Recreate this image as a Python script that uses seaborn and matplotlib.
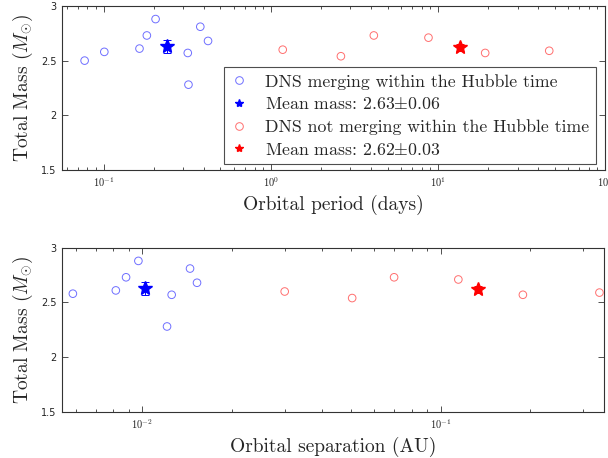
import matplotlib
matplotlib.use('Agg')
import matplotlib.pyplot as plt
import matplotlib.ticker as mticker
from matplotlib.lines import Line2D
import seaborn as sns

# top panel: orbital period (days) vs total mass
blue_period = [0.077, 0.101, 0.164, 0.1815, 0.2047, 0.319, 0.322, 0.379, 0.4217]
blue_mass_p = [2.50, 2.58, 2.61, 2.73, 2.88, 2.57, 2.28, 2.81, 2.68]
red_period = [1.18, 2.63, 4.14, 8.79, 19.2, 46.4]
red_mass_p = [2.60, 2.54, 2.73, 2.71, 2.57, 2.59]

# bottom panel: orbital separation (AU) vs total mass
blue_sep = [0.00585, 0.00815, 0.00882, 0.0097, 0.01254, 0.0121, 0.01445, 0.01525]
blue_mass_a = [2.58, 2.61, 2.73, 2.88, 2.57, 2.28, 2.81, 2.68]
red_sep = [0.0300, 0.0505, 0.0698, 0.1146, 0.1886, 0.3405]
red_mass_a = [2.60, 2.54, 2.73, 2.71, 2.57, 2.59]

# mean masses
mean_blue = 2.63
err_blue = 0.06
mean_red = 2.62
err_red = 0.03
mean_blue_period = 0.240
mean_red_period = 13.6
mean_blue_sep = 0.0102
mean_red_sep = 0.133

legend_labels = ['DNS merging within the Hubble time',
                 r'Mean mass: 2.63$\pm$0.06',
                 'DNS not merging within the Hubble time',
                 r'Mean mass: 2.62$\pm$0.03']

sns.set_style('ticks')
plt.rcParams['font.family'] = ['cmr10', 'DejaVu Serif']
plt.rcParams['mathtext.fontset'] = 'cm'
plt.rcParams['axes.formatter.use_mathtext'] = True
plt.rcParams['xtick.direction'] = 'in'
plt.rcParams['ytick.direction'] = 'in'

edge = '#333333'
light_blue = '#6f6fff'
light_red = '#ff6f6f'


def log_fmt(v, pos):
    import math
    e = int(round(math.log10(v)))
    return r'$\mathsf{10^{%d}}$' % e


def panel(ax, bx, by, rx, ry, mbx, mrx, xlim, xlabel):
    sns.scatterplot(x=bx, y=by, ax=ax, marker='o', s=30, facecolors='none',
                    edgecolor=light_blue, linewidth=0.7, zorder=3)
    sns.scatterplot(x=rx, y=ry, ax=ax, marker='o', s=30, facecolors='none',
                    edgecolor=light_red, linewidth=0.7, zorder=3)
    ax.errorbar([mbx], [mean_blue], yerr=[err_blue], fmt='*', color='blue',
                markersize=10, capsize=3, elinewidth=0.7, capthick=0.7, zorder=4)
    ax.errorbar([mrx], [mean_red], yerr=[err_red], fmt='*', color='red',
                markersize=10, capsize=3, elinewidth=0.7, capthick=0.7, zorder=4)
    ax.set_xscale('log')
    ax.set_xlim(*xlim)
    ax.set_ylim(1.5, 3)
    ax.set_yticks([1.5, 2, 2.5, 3])
    ax.set_yticklabels(['1.5', '2', '2.5', '3'], fontfamily='DejaVu Sans')
    ax.xaxis.set_major_formatter(mticker.FuncFormatter(log_fmt))
    ax.xaxis.set_minor_formatter(mticker.NullFormatter())
    ax.tick_params(which='both', top=True, right=True, labelsize=7,
                   color=edge, labelcolor='#222222', pad=4)
    ax.tick_params(axis='x', which='major', labelsize=7.5)
    ax.tick_params(which='major', length=4, width=0.6)
    ax.tick_params(which='minor', length=2.5, width=0.6)
    for s in ax.spines.values():
        s.set_visible(True)
        s.set_color(edge)
        s.set_linewidth(0.8)
    ax.set_xlabel(xlabel, fontsize=14)
    ax.set_ylabel(r'Total Mass ($M_{\odot}$)', fontsize=14)


fig = plt.figure(figsize=(6.08, 4.58), dpi=100)
ax1 = fig.add_axes([0.102, 0.629, 0.893, 0.358])
ax2 = fig.add_axes([0.102, 0.101, 0.891, 0.358])

panel(ax1, blue_period, blue_mass_p, red_period, red_mass_p,
      mean_blue_period, mean_red_period, (0.0564, 100), 'Orbital period (days)')
panel(ax2, blue_sep, blue_mass_a, red_sep, red_mass_a,
      mean_blue_sep, mean_red_sep, (0.00538, 0.352), 'Orbital separation (AU)')

handles = [
    Line2D([], [], marker='o', ls='', markerfacecolor='none', markeredgecolor=light_blue,
           markeredgewidth=0.7, markersize=5.5),
    Line2D([], [], marker='*', ls='', color='blue', markersize=6),
    Line2D([], [], marker='o', ls='', markerfacecolor='none', markeredgecolor=light_red,
           markeredgewidth=0.7, markersize=5.5),
    Line2D([], [], marker='*', ls='', color='red', markersize=6),
]
leg = ax1.legend(handles, legend_labels, loc='lower right', bbox_to_anchor=(0.983, 0.037),
                 fontsize=12.8, frameon=True, fancybox=False, handlelength=1.0,
                 handletextpad=1.0, labelspacing=0.38, borderpad=0.35, borderaxespad=0)
leg.get_frame().set_edgecolor('#222222')
leg.get_frame().set_linewidth(0.8)

fig.savefig('out.png', dpi=100)
